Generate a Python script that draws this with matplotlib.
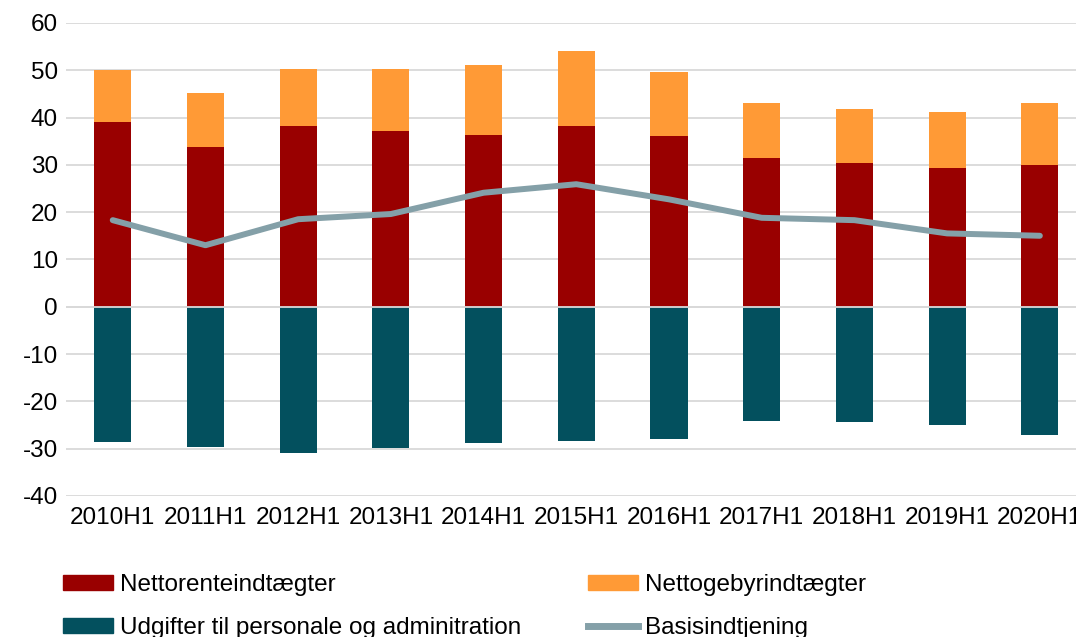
import matplotlib
matplotlib.use('Agg')
import matplotlib.pyplot as plt
from matplotlib.patches import Patch
from matplotlib.lines import Line2D
import numpy as np

periods = ['2010H1', '2011H1', '2012H1', '2013H1', '2014H1', '2015H1',
           '2016H1', '2017H1', '2018H1', '2019H1', '2020H1']
netto_rente = [39.1, 33.8, 38.3, 37.2, 36.2, 38.2, 36.1, 31.4, 30.4, 29.4, 30.0]
netto_gebyr = [10.9, 11.4, 11.9, 13.0, 14.8, 15.9, 13.5, 11.7, 11.5, 11.8, 13.1]
udgifter = [-28.7, -29.7, -30.9, -29.8, -28.9, -28.3, -28.0, -24.1, -24.4, -25.1, -27.2]
basis = [18.3, 13.0, 18.5, 19.6, 24.1, 25.9, 22.7, 18.8, 18.3, 15.5, 15.0]

RED = '#990000'
ORANGE = '#FF9A36'
TEAL = '#03505E'
LINE = '#84A0A8'

plt.rcParams['font.family'] = ['Liberation Sans', 'DejaVu Sans']
plt.rcParams['axes.unicode_minus'] = False

fig = plt.figure(figsize=(10.76, 6.37), dpi=100)
ax = fig.add_axes([0.0617, 0.2215, 1.0 - 0.0617, 0.964 - 0.2215])

x = np.arange(len(periods))
w = 0.4
ax.bar(x, netto_rente, w, color=RED, zorder=2)
ax.bar(x, netto_gebyr, w, bottom=netto_rente, color=ORANGE, zorder=2)
ax.bar(x, udgifter, w, color=TEAL, zorder=2)
ax.plot(x, basis, color=LINE, lw=4.3, solid_capstyle='round', zorder=4)
ax.axhline(0, color='#D9D9D9', lw=1.3, zorder=3)

ax.set_ylim(-40, 60)
ax.set_yticks(range(-40, 61, 10))
# right edge cuts the last category like in the original
ax.set_xlim(-0.5, 10.39)
ax.set_xticks(x)
ax.set_xticklabels(periods)
ax.grid(axis='y', color='#D9D9D9', lw=1.3, zorder=0)
ax.set_axisbelow(True)
for s in ax.spines.values():
    s.set_visible(False)
ax.tick_params(axis='both', length=0, labelsize=17.5, colors='black')
ax.tick_params(axis='y', pad=6)
ax.tick_params(axis='x', pad=8)

handles = [Patch(color=RED), Patch(color=ORANGE), Patch(color=TEAL),
           Line2D([], [], color=LINE, lw=5)]
labels = ['Nettorenteindtægter', 'Nettogebyrindtægter',
          'Udgifter til personale og adminitration', 'Basisindtjening']
# legend is filled column-wise, so reorder to get rows as in the original
order = [0, 2, 1, 3]
fig.legend([handles[i] for i in order], [labels[i] for i in order],
           loc='upper left', bbox_to_anchor=(0.0585, 0.099), ncol=2,
           frameon=False, fontsize=17.5, borderpad=0, borderaxespad=0,
           handlelength=2.06, handleheight=0.55, handletextpad=0.29,
           columnspacing=2.74, labelspacing=0.86)

fig.savefig('out.png', dpi=100)
